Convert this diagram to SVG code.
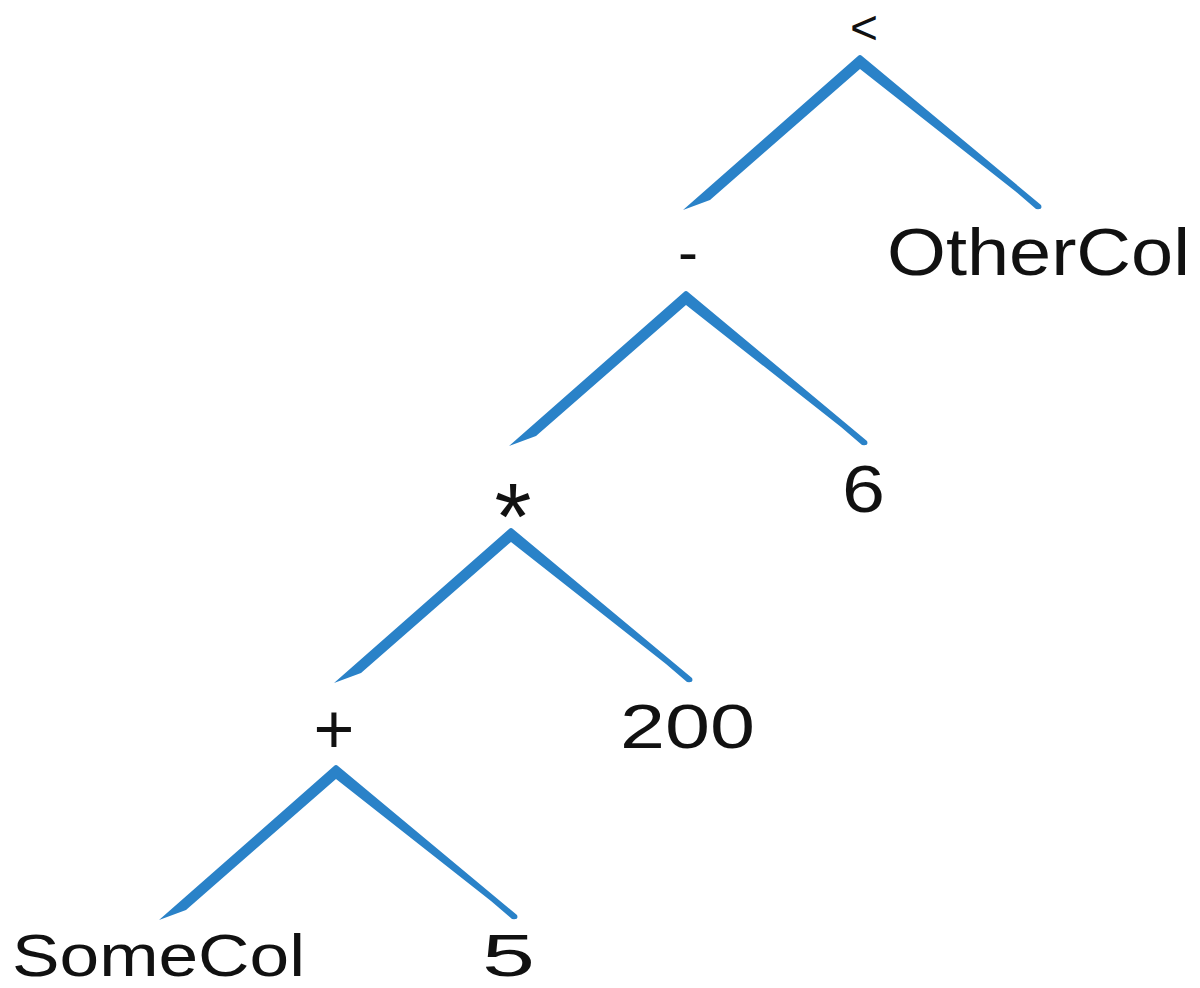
<svg xmlns="http://www.w3.org/2000/svg" width="1200" height="988" viewBox="0 0 1200 988">
<style>
.lbl{font-family:"Liberation Sans","Noto Sans",sans-serif;fill:#111;}
.br{fill:#2a82c8;}
</style>
<defs>
<path id="fork" class="br" d="M-2,-8 Q0,-10 2,-8 L181,141 Q183,146 176,145 L155,127 L0,5 L-150,136 L-177,146 Z"/>
</defs>
<rect width="1200" height="988" fill="#fff"/>
<g id="connectors">
<use href="#fork" transform="translate(860,64)"/>
<use href="#fork" transform="translate(686,300)"/>
<use href="#fork" transform="translate(511,537)"/>
<use href="#fork" transform="translate(336,774)"/>
</g>
<g id="node-lt"><text class="lbl" x="864" y="44" font-size="48" text-anchor="middle">&lt;</text></g>
<g id="node-othercol"><text class="lbl" x="887" y="275" font-size="66" textLength="303" lengthAdjust="spacingAndGlyphs">OtherCol</text></g>
<g id="node-minus"><text class="lbl" x="688" y="272" font-size="60" text-anchor="middle">-</text></g>
<g id="node-6"><text class="lbl" x="842" y="512" font-size="66" textLength="43" lengthAdjust="spacingAndGlyphs">6</text></g>
<g id="node-times"><text class="lbl" x="513" y="549" font-size="95" text-anchor="middle">*</text></g>
<g id="node-200"><text class="lbl" x="620" y="748" font-size="63" textLength="135" lengthAdjust="spacingAndGlyphs">200</text></g>
<g id="node-plus"><text class="lbl" x="334" y="753" font-size="70" text-anchor="middle">+</text></g>
<g id="node-somecol"><text class="lbl" x="12" y="976" font-size="60" textLength="293" lengthAdjust="spacingAndGlyphs">SomeCol</text></g>
<g id="node-5"><text class="lbl" x="482" y="976" font-size="60" textLength="53" lengthAdjust="spacingAndGlyphs">5</text></g>
</svg>
